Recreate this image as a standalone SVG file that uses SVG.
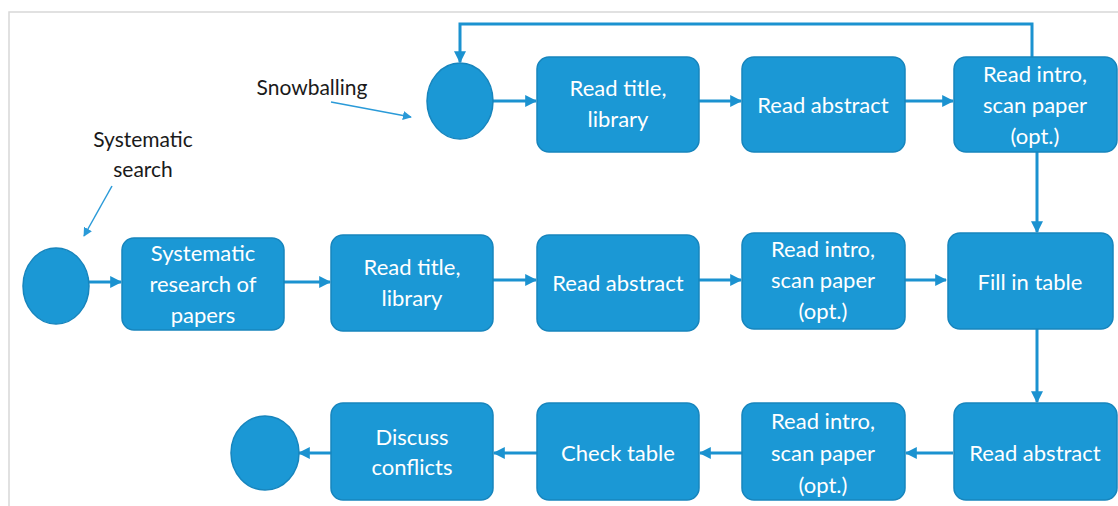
<svg xmlns="http://www.w3.org/2000/svg" width="1118" height="506" viewBox="0 0 1118 506">
<defs>
<style>
.box{fill:#1b98d5;stroke:#1785bd;stroke-width:1.5}
.t{fill:#ffffff;font-family:Lato,"Open Sans",sans-serif;font-size:22px;text-anchor:middle}
.lbl{fill:#1a1a1a;font-family:Lato,"Open Sans",sans-serif;font-size:21px;text-anchor:middle}
.c{fill:none;stroke:#1b92d0;stroke-width:3}
.thin{fill:none;stroke:#2a9ad8;stroke-width:1.5}
</style>
<marker id="ah" viewBox="0 0 10 10" refX="9" refY="5" markerWidth="4" markerHeight="4" orient="auto" markerUnits="strokeWidth"><path d="M0,0 L10,5 L0,10 z" fill="#1b92d0"/></marker>
<marker id="ah2" viewBox="0 0 10 10" refX="9" refY="5" markerWidth="6" markerHeight="6" orient="auto" markerUnits="strokeWidth"><path d="M0,0 L10,5 L0,10 z" fill="#2a9ad8"/></marker>
</defs>
<rect width="1118" height="506" fill="#ffffff"/>
<path d="M9,506 L9,12 L1118,12" fill="none" stroke="#d8d8d8" stroke-width="1.5"/>

<g id="labels">
<text class="lbl" x="312" y="95">Snowballing</text>
<text class="lbl" x="143" y="147">Systematic</text>
<text class="lbl" x="143" y="177">search</text>
</g>

<g id="connectors">
<line class="thin" x1="331" y1="102" x2="411" y2="117" marker-end="url(#ah2)"/>
<line class="thin" x1="112" y1="186" x2="84" y2="236" marker-end="url(#ah2)"/>
<path class="c" d="M1032,57 L1032,24 L460,24 L460,62" marker-end="url(#ah)"/>
<line class="c" x1="493" y1="101" x2="536" y2="101" marker-end="url(#ah)"/>
<line class="c" x1="699" y1="101" x2="741" y2="101" marker-end="url(#ah)"/>
<line class="c" x1="905" y1="101" x2="953" y2="101" marker-end="url(#ah)"/>
<line class="c" x1="1037" y1="152" x2="1037" y2="232" marker-end="url(#ah)"/>
<line class="c" x1="89" y1="282" x2="121" y2="282" marker-end="url(#ah)"/>
<line class="c" x1="284" y1="282" x2="330" y2="282" marker-end="url(#ah)"/>
<line class="c" x1="493" y1="280" x2="536" y2="280" marker-end="url(#ah)"/>
<line class="c" x1="699" y1="280" x2="741" y2="280" marker-end="url(#ah)"/>
<line class="c" x1="905" y1="280" x2="946" y2="280" marker-end="url(#ah)"/>
<line class="c" x1="1037" y1="329" x2="1037" y2="402" marker-end="url(#ah)"/>
<line class="c" x1="953" y1="453" x2="906" y2="453" marker-end="url(#ah)"/>
<line class="c" x1="742" y1="453" x2="700" y2="453" marker-end="url(#ah)"/>
<line class="c" x1="537" y1="453" x2="494" y2="453" marker-end="url(#ah)"/>
<line class="c" x1="331" y1="453" x2="299" y2="453" marker-end="url(#ah)"/>
</g>

<g id="start-snow"><ellipse class="box" cx="460" cy="101" rx="33" ry="38"/></g>
<g id="top-title"><rect class="box" x="537" y="57" width="162" height="95" rx="12"/><text class="t" x="618" y="96">Read title,</text><text class="t" x="618" y="127">library</text></g>
<g id="top-abstract"><rect class="box" x="742" y="57" width="163" height="95" rx="12"/><text class="t" x="823" y="113">Read abstract</text></g>
<g id="top-intro"><rect class="box" x="954" y="57" width="163" height="95" rx="12"/><text class="t" x="1035" y="82">Read intro,</text><text class="t" x="1035" y="113">scan paper</text><text class="t" x="1035" y="144">(opt.)</text></g>

<g id="start-sys"><ellipse class="box" cx="56" cy="286" rx="33" ry="38"/></g>
<g id="sys-research"><rect class="box" x="122" y="238" width="162" height="92" rx="12"/><text class="t" x="203" y="261">Systematic</text><text class="t" x="203" y="292">research of</text><text class="t" x="203" y="323">papers</text></g>
<g id="mid-title"><rect class="box" x="331" y="235" width="162" height="96" rx="12"/><text class="t" x="412" y="275">Read title,</text><text class="t" x="412" y="306">library</text></g>
<g id="mid-abstract"><rect class="box" x="537" y="235" width="162" height="96" rx="12"/><text class="t" x="618" y="291">Read abstract</text></g>
<g id="mid-intro"><rect class="box" x="742" y="233" width="163" height="96" rx="12"/><text class="t" x="823" y="257">Read intro,</text><text class="t" x="823" y="288">scan paper</text><text class="t" x="823" y="319">(opt.)</text></g>
<g id="fill-table"><rect class="box" x="948" y="233" width="165" height="96" rx="12"/><text class="t" x="1030" y="290">Fill in table</text></g>

<g id="bot-abstract"><rect class="box" x="954" y="403" width="163" height="97" rx="12"/><text class="t" x="1035" y="461">Read abstract</text></g>
<g id="bot-intro"><rect class="box" x="742" y="403" width="163" height="97" rx="12"/><text class="t" x="823" y="429">Read intro,</text><text class="t" x="823" y="461">scan paper</text><text class="t" x="823" y="493">(opt.)</text></g>
<g id="check-table"><rect class="box" x="537" y="403" width="162" height="97" rx="12"/><text class="t" x="618" y="461">Check table</text></g>
<g id="discuss"><rect class="box" x="331" y="403" width="162" height="97" rx="12"/><text class="t" x="412" y="445">Discuss</text><text class="t" x="412" y="475">conflicts</text></g>
<g id="end"><ellipse class="box" cx="265" cy="453" rx="34" ry="37"/></g>
</svg>
